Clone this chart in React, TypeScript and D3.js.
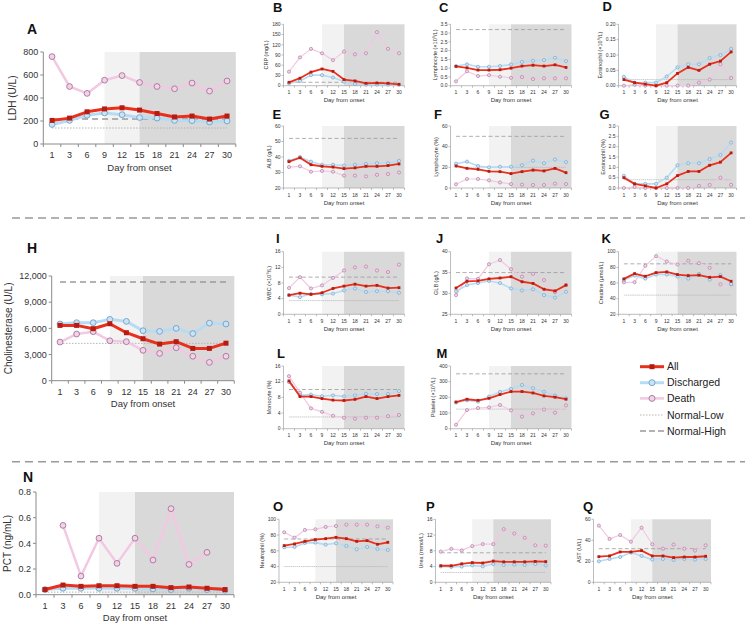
import * as d3 from 'd3';

const days = ['1', '3', '6', '9', '12', '15', '18', '21', '24', '27', '30'];

// A - LDH
const ldhAll = [205, 225, 280, 305, 315, 295, 265, 235, 243, 217, 243];
const ldhDischarged = [170, 205, 250, 270, 255, 230, 225, 205, 203, 191, 200];
const ldhDeath = [760, 500, 440, 555, 595, 535, 500, 480, 530, 460, 548];
const ldhTicks = [0, 200, 400, 600, 800];
const ldhNormal = [139, 217];

// B - CRP
const crpAll = [10, 22, 40, 49, 42, 18, 14, 7, 8, 7, 4];
const crpDischarged = [7, 14, 31, 31, 24, 12, 5, 3, 3, 3, 3];
const crpDeath = [41, 83, 108, 95, 75, 100, 92, 95, 157, 108, 95];
const crpTicks = [0, 30, 60, 90, 120, 150, 180];
const crpNormal = [null, 10];

// C - Lymphocyte count
const lymAll = [1.1, 1.02, 0.89, 0.89, 0.91, 1.0, 1.12, 1.17, 1.12, 1.19, 1.04];
const lymDischarged = [1.12, 1.22, 1.08, 1.08, 1.12, 1.21, 1.36, 1.42, 1.46, 1.59, 1.4];
const lymDeath = [0.25, 0.82, 0.55, 0.6, 0.51, 0.45, 0.49, 0.38, 0.42, 0.42, 0.42];
const lymTicks = [0, 0.5, 1, 1.5, 2, 2.5, 3, 3.5];
const lymNormal = [null, 3.2];

// D - Eosinophil count
const eosAll = [0.02, 0.01, 0.005, 0.0, 0.01, 0.04, 0.06, 0.05, 0.07, 0.08, 0.11];
const eosDischarged = [0.029, 0.01, 0.01, 0.01, 0.03, 0.06, 0.07, 0.07, 0.09, 0.1, 0.12];
const eosDeath = [0, 0.003, 0, 0, 0, 0, 0, 0.01, 0.02, 0.07, 0.025];
const eosTicks = [0, 0.05, 0.1, 0.15, 0.2];
const eosNormal = [0.02, null];

// E - ALB
const albAll = [37, 39.5, 35, 34, 33.5, 32.5, 33, 34, 34, 34.5, 35.5];
const albDischarged = [37.5, 40, 37, 35, 35, 34.5, 35, 35.5, 36, 36, 37.5];
const albDeath = [33.5, 34, 30.5, 31, 30.5, 28, 28, 27.5, 28.5, 29, 30];
const albTicks = [20, 30, 40, 50, 60];
const albNormal = [null, 52];

// F - Lymphocyte %
const lymPctAll = [21.3, 19, 18.1, 16.1, 15.8, 13.9, 15.8, 17.4, 16.5, 19, 14.8];
const lymPctDischarged = [23.5, 25.5, 21.3, 20, 20.6, 20.6, 22, 26.5, 24, 27.5, 25];
const lymPctDeath = [3.6, 8.7, 8.7, 7.4, 5.4, 3.8, 3.2, 2.9, 2.9, 4.2, 3.8];
const lymPctTicks = [0, 20, 40, 60];
const lymPctNormal = [20, 50];

// G - Eosinophil %
const eosPctAll = [0.5, 0.2, 0.1, 0.0, 0.2, 0.6, 0.8, 0.8, 1.1, 1.25, 1.7];
const eosPctDischarged = [0.59, 0.2, 0.2, 0.2, 0.5, 1.1, 1.2, 1.2, 1.4, 1.6, 2.2];
const eosPctDeath = [0, 0.05, 0, 0, 0, 0, 0, 0.1, 0.15, 0.5, 0.15];
const eosPctTicks = [0, 0.5, 1, 1.5, 2, 2.5, 3];
const eosPctNormal = [0.4, null];

// H - Cholinesterase
const cheAll = [6340, 6340, 5960, 6530, 5500, 4810, 4200, 4470, 3700, 3700, 4300];
const cheDischarged = [6500, 6650, 6650, 7030, 6800, 5730, 5650, 6000, 5400, 6600, 6500];
const cheDeath = [4430, 5350, 5620, 4580, 4470, 3480, 3130, 3780, 2800, 2100, 2800];
const cheTicks = [0, 3000, 6000, 9000, 12000];
const cheNormal = [4280, 11310];

// I - WBC
const wbcAll = [4.9, 5.4, 5.1, 5.5, 6.6, 7.2, 7.7, 7.2, 7.4, 6.7, 6.8];
const wbcDischarged = [4.9, 4.4, 5.2, 5.1, 5.3, 6.1, 6.6, 5.7, 5.9, 5.9, 5.5];
const wbcDeath = [6.7, 9.5, 6.6, 7.4, 9.3, 11.2, 12.0, 12.2, 11.2, 10.8, 12.7];
const wbcTicks = [0, 4, 8, 12, 16];
const wbcNormal = [3.5, 9.5];

// J - GLB
const glbAll = [31.3, 32.9, 33, 33.5, 33.7, 34, 32.8, 32.4, 31, 30.6, 32];
const glbDischarged = [30.5, 32, 32.5, 33, 32.5, 31.2, 30.7, 31, 29.6, 29, 30.4];
const glbDeath = [29.6, 33.6, 33.5, 37, 38, 35.8, 34, 34.7, 33.2, 30.3, 32];
const glbTicks = [25, 30, 35, 40];
const glbNormal = [null, 35];

// K - Creatine
const creAll = [65.2, 72, 68.6, 73.3, 74.2, 70.8, 69.5, 70, 67.3, 68.2, 62.2];
const creDischarged = [63.9, 69.5, 65.6, 70.8, 70.8, 68.2, 65.6, 71.6, 64.3, 70.3, 58.7];
const creDeath = [60.9, 61, 82, 94.4, 87.5, 83.7, 88.4, 85.4, 79.4, 58.3, 58.3];
const creTicks = [20, 40, 60, 80, 100];
const creNormal = [44.5, 84.5];

// L - Monocyte %
const monAll = [12.2, 8.2, 8.2, 7.7, 7.3, 7.2, 7.5, 8.2, 7.7, 8.2, 8.5];
const monDischarged = [11.9, 8.5, 8.7, 8.3, 8.5, 8.25, 8.5, 8.9, 8.85, 8.85, 9.6];
const monDeath = [13.4, 9.2, 5.2, 4.3, 3.3, 2.8, 2.55, 2.8, 2.8, 3.2, 3.5];
const monTicks = [0, 4, 8, 12, 16];
const monNormal = [3, 10];

// M - Platelet
const pltAll = [170, 188, 181, 194, 218, 237, 237, 228, 209, 201, 188];
const pltDischarged = [167, 181, 173, 205, 235, 254, 279, 258, 235, 212, 194];
const pltDeath = [25, 119, 132, 136, 151, 117, 77, 98, 122, 102, 149];
const pltTicks = [0, 100, 200, 300, 400];
const pltNormal = [125, 350];

// N - PCT
const pctAll = [0.04, 0.075, 0.065, 0.07, 0.07, 0.065, 0.065, 0.055, 0.06, 0.05, 0.04];
const pctDischarged = [0.04, 0.05, 0.05, 0.05, 0.05, 0.05, 0.045, 0.04, 0.05, 0.04, 0.035];
const pctDeath = [null, 0.54, 0.145, 0.44, 0.244, 0.44, 0.27, 0.67, 0.236, 0.33, null];
const pctTicks = [0, 0.2, 0.4, 0.6, 0.8];
const pctNormal = [0.02, 0.05];

// O - Neutrophil %
const neuAll = [66.6, 68.7, 72, 74.2, 75.4, 77.1, 75.4, 72, 72.9, 68.3, 70.8];
const neuDischarged = [64.4, 64.9, 70, 70.4, 67.8, 69.5, 66.1, 61.9, 64.9, 62.3, 61.1];
const neuDeath = [83.5, 76.7, 86.5, 87.3, 90.3, 91.5, 93.2, 93.2, 93.2, 91.1, 89.4];
const neuTicks = [20, 40, 60, 80, 100];
const neuNormal = [40, 75];

// P - Urea
const ureaAll = [4.2, 4.2, 4.7, 5.0, 4.9, 5.4, 5.2, 5.2, 5.2, 5.3, 5.25];
const ureaDischarged = [4.05, 3.9, 4.0, 4.3, 4.05, 4.65, 4.4, 4.5, 4.4, 4.65, 4.3];
const ureaDeath = [7.8, 8.5, 8.1, 9.2, 9.7, 9.7, 13.5, 12.4, 11.3, 9.4, 9.3];
const ureaTicks = [0, 4, 8, 12, 16];
const ureaNormal = [2.5, 7.5];

// Q - AST
const astAll = [24.4, 25.1, 28.9, 28.9, 30.2, 25.1, 25.1, 23.5, 24.1, 24.1, 24.8];
const astDischarged = [20, 22.2, 24.1, 28.3, 25.1, 21.6, 22.2, 21.3, 22.2, 21.6, 22.2];
const astDeath = [54, 41.3, 45, 38.7, 52, 36.2, 32, 35.9, 32, 30.2, 35.2];
const astTicks = [0, 20, 40, 60];
const astNormal = [null, 32];

const legendLabels = ['All', 'Discharged', 'Death', 'Normal-Low', 'Normal-High'];

const font = '"Liberation Sans", Arial, Helvetica, sans-serif';
const RED = '#e8301c';
const RED_DARK = '#b71c12';
const BLUE = '#b6dcf4';
const BLUE_STROKE = '#6f9fc8';
const BLUE_FILL = '#c9e4f6';
const PINK = '#f2c8e2';
const PINK_STROKE = '#a8739a';
const PINK_FILL = '#f1d3e7';
const BAND_LIGHT = '#f2f2f2';
const BAND_DARK = '#d9d9d9';

type Val = number | null;
type Spec = {
  letter: string; lx: number; ly: number;
  x0: number; x1: number; top: number; bot: number;
  ticks: number[]; fmt: (v: number) => string; title: string;
  all: Val[]; dis: Val[]; death: Val[]; normal: Val[]; big: boolean;
};

const f0 = d3.format(',');
const f1 = d3.format('.1f');
const f2 = d3.format('.2f');

const specs: Spec[] = [
  { letter: 'A', lx: 27, ly: 34, x0: 43.3, x1: 235.8, top: 52, bot: 144, ticks: ldhTicks, fmt: f0, title: 'LDH (U/L)', all: ldhAll, dis: ldhDischarged, death: ldhDeath, normal: ldhNormal, big: true },
  { letter: 'H', lx: 27, ly: 253, x0: 51.7, x1: 234.3, top: 276, bot: 380.7, ticks: cheTicks, fmt: f0, title: 'Cholinesterase (U/L)', all: cheAll, dis: cheDischarged, death: cheDeath, normal: cheNormal, big: true },
  { letter: 'N', lx: 23, ly: 481.5, x0: 36, x1: 234, top: 492, bot: 594.7, ticks: pctTicks, fmt: f1, title: 'PCT (ng/mL)', all: pctAll, dis: pctDischarged, death: pctDeath, normal: pctNormal, big: true },

  { letter: 'B', lx: 273, ly: 11.5, x0: 283.5, x1: 404.5, top: 24.3, bot: 85.7, ticks: crpTicks, fmt: f0, title: 'CRP (mg/L)', all: crpAll, dis: crpDischarged, death: crpDeath, normal: crpNormal, big: false },
  { letter: 'C', lx: 439, ly: 11.5, x0: 450.5, x1: 571.5, top: 24.3, bot: 85.7, ticks: lymTicks, fmt: f1, title: 'Lymphocyte (×10⁹/L)', all: lymAll, dis: lymDischarged, death: lymDeath, normal: lymNormal, big: false },
  { letter: 'D', lx: 602.5, ly: 11, x0: 618.5, x1: 736.5, top: 24.3, bot: 85.7, ticks: eosTicks, fmt: f2, title: 'Eosinophil (×10⁹/L)', all: eosAll, dis: eosDischarged, death: eosDeath, normal: eosNormal, big: false },

  { letter: 'E', lx: 272.5, ly: 119, x0: 283.5, x1: 404.5, top: 126, bot: 188, ticks: albTicks, fmt: f0, title: 'ALB (g/L)', all: albAll, dis: albDischarged, death: albDeath, normal: albNormal, big: false },
  { letter: 'F', lx: 434, ly: 119, x0: 450.5, x1: 571.5, top: 126, bot: 188, ticks: lymPctTicks, fmt: f0, title: 'Lymphocyte (%)', all: lymPctAll, dis: lymPctDischarged, death: lymPctDeath, normal: lymPctNormal, big: false },
  { letter: 'G', lx: 599.5, ly: 119, x0: 618.5, x1: 736.5, top: 126, bot: 188, ticks: eosPctTicks, fmt: f1, title: 'Eosinophil (%)', all: eosPctAll, dis: eosPctDischarged, death: eosPctDeath, normal: eosPctNormal, big: false },

  { letter: 'I', lx: 276, ly: 242.7, x0: 283.5, x1: 404.5, top: 251.7, bot: 314.3, ticks: wbcTicks, fmt: f0, title: 'WBC (×10⁹/L)', all: wbcAll, dis: wbcDischarged, death: wbcDeath, normal: wbcNormal, big: false },
  { letter: 'J', lx: 436, ly: 242.7, x0: 450.5, x1: 571.5, top: 251.7, bot: 314.3, ticks: glbTicks, fmt: f0, title: 'GLB (g/L)', all: glbAll, dis: glbDischarged, death: glbDeath, normal: glbNormal, big: false },
  { letter: 'K', lx: 601.5, ly: 242.7, x0: 618.5, x1: 736.5, top: 251.7, bot: 314.3, ticks: creTicks, fmt: f0, title: 'Creatine (μmol/L)', all: creAll, dis: creDischarged, death: creDeath, normal: creNormal, big: false },

  { letter: 'L', lx: 277, ly: 358.3, x0: 283.5, x1: 404.5, top: 366, bot: 428.7, ticks: monTicks, fmt: f0, title: 'Monocyte (%)', all: monAll, dis: monDischarged, death: monDeath, normal: monNormal, big: false },
  { letter: 'M', lx: 436.5, ly: 358.3, x0: 450.5, x1: 571.5, top: 366, bot: 428.7, ticks: pltTicks, fmt: f0, title: 'Platelet (×10⁹/L)', all: pltAll, dis: pltDischarged, death: pltDeath, normal: pltNormal, big: false },

  { letter: 'O', lx: 273, ly: 510.7, x0: 279, x1: 393, top: 519.3, bot: 582.3, ticks: neuTicks, fmt: f0, title: 'Neutrophil (%)', all: neuAll, dis: neuDischarged, death: neuDeath, normal: neuNormal, big: false },
  { letter: 'P', lx: 426, ly: 510.7, x0: 435.5, x1: 551, top: 519.3, bot: 582.3, ticks: ureaTicks, fmt: f0, title: 'Urea (mmol/L)', all: ureaAll, dis: ureaDischarged, death: ureaDeath, normal: ureaNormal, big: false },
  { letter: 'Q', lx: 583, ly: 510.7, x0: 593.5, x1: 711, top: 519.3, bot: 582.3, ticks: astTicks, fmt: f0, title: 'AST (U/L)', all: astAll, dis: astDischarged, death: astDeath, normal: astNormal, big: false },
];

const BIG = { tick: 9, title: 10, xlab: 9.5, r: 2.9, sq: 5, wAll: 3, wDis: 3, wDeath: 2.5, axis: 1, tickLen: 3, letter: 14, mStroke: 0.9 };
const SMALL = { tick: 5, title: 5.5, xlab: 6, r: 1.6, sq: 2.8, wAll: 1.8, wDis: 1.6, wDeath: 1.2, axis: 0.7, tickLen: 2, letter: 13, mStroke: 0.6 };

const textW = (s: string, fs: number) =>
  s.split('').reduce((a, c) => a + (c === ',' || c === '.' ? 0.278 : 0.556), 0) * fs;

function Panel({ p }: { p: Spec }) {
  const s = p.big ? BIG : SMALL;
  const x = d3.scalePoint<string>().domain(days).range([p.x0, p.x1]).padding(0.5);
  const y = d3.scaleLinear().domain([p.ticks[0], p.ticks[p.ticks.length - 1]]).range([p.bot, p.top]);
  const step = x.step();
  const xd = (i: number) => x(days[i]) as number;
  const line = d3.line<Val>().defined(d => d != null).x((_, i) => xd(i)).y(d => y(d as number));
  const first = xd(0);
  const last = xd(days.length - 1);
  const maxW = d3.max(p.ticks, t => textW(p.fmt(t), s.tick)) as number;
  const labX = p.x0 - s.tickLen - (p.big ? 2 : 1);
  const titleX = labX - maxW - (p.big ? 7 : 4);
  const [low, high] = p.normal;
  const axisCol = p.big ? '#8a8a8a' : '#a0a0a0';
  const circles = (vals: Val[], fill: string, stroke: string) =>
    vals.map((v, i) => v == null ? null : (
      <circle key={i} cx={xd(i)} cy={y(v)} r={s.r} fill={fill} stroke={stroke} strokeWidth={s.mStroke} />
    ));
  return (
    <g>
      <rect x={x('9')} y={p.top} width={(x('15') as number) - (x('9') as number)} height={p.bot - p.top} fill={BAND_LIGHT} />
      <rect x={x('15')} y={p.top} width={p.x1 - (x('15') as number)} height={p.bot - p.top} fill={BAND_DARK} />
      {low != null && (
        <line x1={first} x2={last} y1={y(low)} y2={y(low)} stroke="#b5b5b5" strokeWidth={p.big ? 1 : 0.7} strokeDasharray={p.big ? '1.5,1.5' : '1.5,0.6'} />
      )}
      {high != null && (
        <line x1={first} x2={last} y1={y(high)} y2={y(high)} stroke="#9a9a9a" strokeWidth={p.big ? 1.4 : 0.8} strokeDasharray={p.big ? '6,4' : '4,2.5'} />
      )}
      {/* y axis */}
      <line x1={p.x0} x2={p.x0} y1={p.top} y2={p.bot} stroke={axisCol} strokeWidth={s.axis} />
      {p.ticks.map(t => (
        <g key={t}>
          <line x1={p.x0 - s.tickLen} x2={p.x0} y1={y(t)} y2={y(t)} stroke={axisCol} strokeWidth={s.axis} />
          <text x={labX} y={y(t)} dy="0.35em" textAnchor="end" fontSize={s.tick} fill="#333">{p.fmt(t)}</text>
        </g>
      ))}
      {/* x axis */}
      <line x1={p.x0} x2={p.x1} y1={p.bot} y2={p.bot} stroke={axisCol} strokeWidth={s.axis} />
      {d3.range(days.length + 1).map(k => (
        <line key={k} x1={p.x0 + k * step} x2={p.x0 + k * step} y1={p.bot} y2={p.bot + s.tickLen} stroke={axisCol} strokeWidth={s.axis} />
      ))}
      {days.map((d, i) => (
        <text key={d} x={xd(i)} y={p.bot + (p.big ? 14 : 8.5)} textAnchor="middle" fontSize={s.tick} fill="#333">{d}</text>
      ))}
      <text x={(p.x0 + p.x1) / 2} y={p.bot + (p.big ? 26.5 : 16.5)} textAnchor="middle" fontSize={s.xlab} fill="#333">Day from onset</text>
      <text transform={`translate(${titleX},${(p.top + p.bot) / 2}) rotate(-90)`} textAnchor="middle" fontSize={s.title} fill="#333">{p.title}</text>
      {/* series */}
      <path d={line(p.death) as string} fill="none" stroke={PINK} strokeWidth={s.wDeath} strokeLinejoin="round" />
      {circles(p.death, PINK_FILL, PINK_STROKE)}
      <path d={line(p.dis) as string} fill="none" stroke={BLUE} strokeWidth={s.wDis} strokeLinejoin="round" />
      {circles(p.dis, BLUE_FILL, BLUE_STROKE)}
      <path d={line(p.all) as string} fill="none" stroke={RED} strokeWidth={s.wAll} strokeLinejoin="round" />
      {p.all.map((v, i) => v == null ? null : (
        <rect key={i} x={xd(i) - s.sq / 2} y={y(v) - s.sq / 2} width={s.sq} height={s.sq} fill={RED_DARK} />
      ))}
      <text x={p.lx} y={p.ly} fontSize={s.letter} fontWeight="bold" fill="#111">{p.letter}</text>
    </g>
  );
}

function Legend() {
  const x0 = 640, x1 = 664, tx = 667;
  const ys = [366.7, 382.7, 398.4, 415, 431];
  const mid = (x0 + x1) / 2;
  return (
    <g fontSize={10.5} fill="#222">
      <line x1={x0} x2={x1} y1={ys[0]} y2={ys[0]} stroke={RED} strokeWidth={3} />
      <rect x={mid - 2.5} y={ys[0] - 2.5} width={5} height={5} fill={RED_DARK} />
      <line x1={x0} x2={x1} y1={ys[1]} y2={ys[1]} stroke={BLUE} strokeWidth={3} />
      <circle cx={mid} cy={ys[1]} r={3} fill={BLUE_FILL} stroke={BLUE_STROKE} strokeWidth={0.9} />
      <line x1={x0} x2={x1} y1={ys[2]} y2={ys[2]} stroke={PINK} strokeWidth={2.5} />
      <circle cx={mid} cy={ys[2]} r={3} fill={PINK_FILL} stroke={PINK_STROKE} strokeWidth={0.9} />
      <line x1={x0} x2={x1} y1={ys[3]} y2={ys[3]} stroke="#b5b5b5" strokeWidth={1} strokeDasharray="1.5,1.5" />
      <line x1={x0} x2={x1} y1={ys[4]} y2={ys[4]} stroke="#9a9a9a" strokeWidth={1.4} strokeDasharray="6,3" />
      {legendLabels.map((l, i) => (
        <text key={l} x={tx} y={ys[i]} dy="0.36em">{l}</text>
      ))}
    </g>
  );
}

export default function App() {
  return (
    <svg width={745} height={626} style={{ position: 'absolute', left: 0, top: 0, background: '#fff' }} fontFamily={font}>
      <rect width={745} height={626} fill="#fff" />
      {[218, 461.7].map(yy => (
        <line key={yy} x1={12} x2={745} y1={yy} y2={yy} stroke="#999" strokeWidth={1.5} strokeDasharray="8,5" />
      ))}
      {specs.map(p => <Panel key={p.letter} p={p} />)}
      <Legend />
    </svg>
  );
}
